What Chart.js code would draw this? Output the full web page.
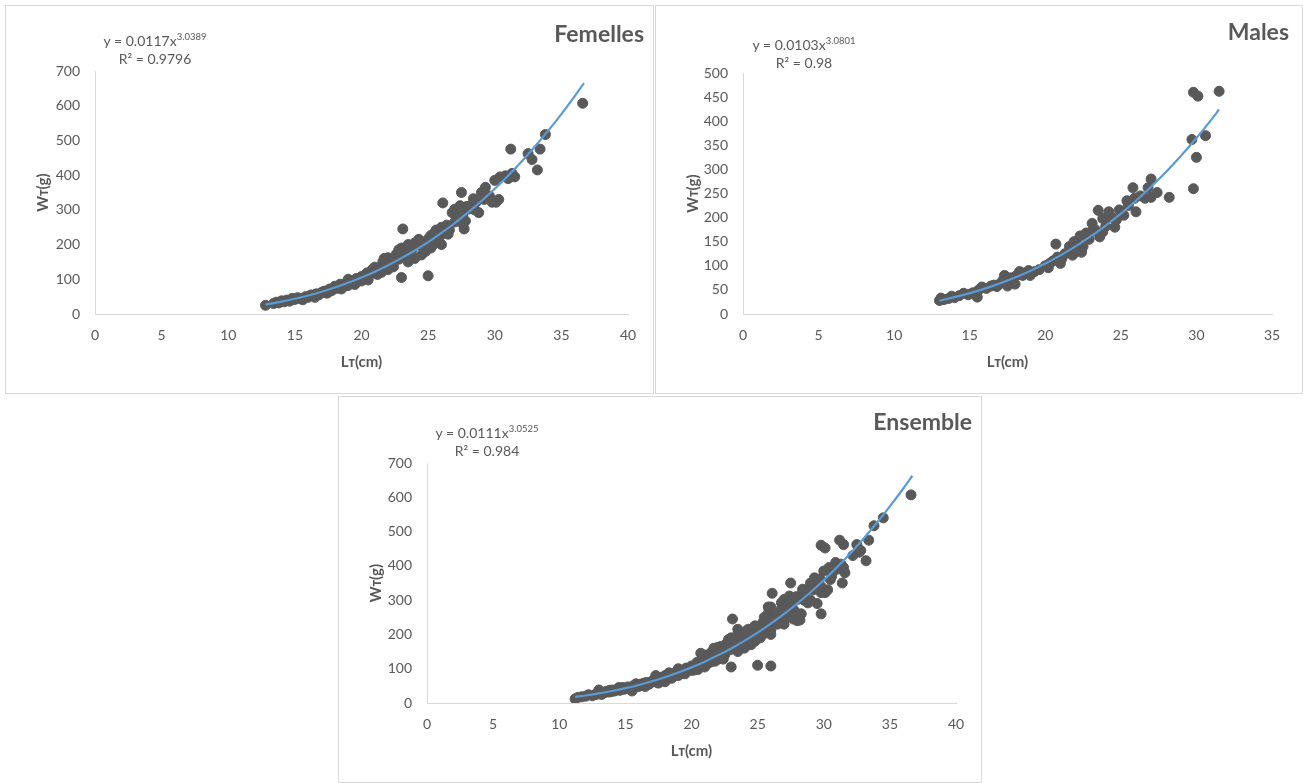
<!DOCTYPE html>
<html lang="fr">
<head>
<meta charset="UTF-8" />
<title>Relation taille-poids</title>
<script src="https://cdn.jsdelivr.net/npm/chart.js"></script>
<style>
  body { margin: 0; background: #fff; font-family: Lato, "Liberation Sans", sans-serif; }
  .box { position: absolute; box-sizing: border-box; border: 1px solid #d9d9d9; background: #fff; }
  .box canvas { position: absolute; left: 0; top: 0; }
  .title { position: absolute; font-weight: bold; font-size: 23px; color: #595959; line-height: 26px; }
  .eq { position: absolute; width: 170px; margin-left: -85px; text-align: center; font-size: 14px; color: #595959; line-height: 18px; }
  .eq sup { font-size: 9.5px; vertical-align: 6px; line-height: 0; }
</style>
</head>
<body>
<div class="box" style="left:5px;top:5px;width:649px;height:389px">
  <canvas id="femelles" width="647" height="387"></canvas>
  <div class="title" style="right:9px;top:14px">Femelles</div>
  <div class="eq" style="left:149px;top:26px">y = 0.0117x<sup>3.0389</sup><br>R² = 0.9796</div>
</div>
<div class="box" style="left:655px;top:5px;width:648px;height:389px">
  <canvas id="males" width="646" height="387"></canvas>
  <div class="title" style="right:13px;top:12px">Males</div>
  <div class="eq" style="left:148px;top:30px">y = 0.0103x<sup>3.0801</sup><br>R² = 0.98</div>
</div>
<div class="box" style="left:338px;top:396px;width:644px;height:387px">
  <canvas id="ensemble" width="642" height="385"></canvas>
  <div class="title" style="right:9px;top:11px">Ensemble</div>
  <div class="eq" style="left:148px;top:27px">y = 0.0111x<sup>3.0525</sup><br>R² = 0.984</div>
</div>
<script>
// longueur totale (cm), poids total (g)
const femellesPoints = [
  [12.8,25],[13.4,30],[13.6,34],[13.8,32],[14.0,38],[14.2,35],[14.4,40],[14.6,37],[14.8,45],[15.0,42],
  [15.2,47],[15.4,44],[15.6,41],[15.8,50],[16.0,48],[16.2,55],[16.4,52],[16.6,58],[16.8,55],[17.0,62],
  [17.2,66],[17.4,60],[17.6,72],[17.8,68],[18.0,80],[18.2,74],[18.4,86],[18.6,78],[18.8,88],[19.0,82],
  [19.2,96],[19.4,92],[19.6,102],[19.8,97],[20.0,108],[20.2,101],[20.4,118],[20.6,112],[20.8,128],[21.0,124],
  [21.2,114],[21.4,132],[21.6,150],[21.8,142],[22.0,162],[22.2,150],[22.4,136],[22.6,172],[22.8,158],[23.0,190],
  [23.0,105],[23.1,245],[23.2,176],[23.4,168],[23.6,196],[23.8,186],[24.0,160],[24.2,200],[24.4,207],[24.6,192],
  [24.8,180],[25.0,110],[25.0,216],[25.2,226],[25.4,200],[25.6,242],[25.8,212],[26.0,250],[26.1,320],[26.2,232],
  [26.4,256],[26.6,242],[26.8,292],[27.0,302],[27.2,276],[27.4,312],[27.5,350],[27.6,282],[27.7,245],[27.8,268],
  [28.0,302],[28.2,312],[28.4,332],[28.6,322],[28.8,292],[29.0,350],[29.3,365],[29.6,340],[29.8,322],[30.0,385],
  [30.1,322],[30.4,395],[30.8,398],[31.0,390],[31.2,475],[31.3,405],[31.5,395],[32.5,462],[32.8,445],[33.2,415],
  [33.4,475],[33.8,517],[36.6,607],
  [16.5,48],[17.5,62],[18.5,72],[19.0,100],[19.5,85],[20.0,95],[20.5,98],[21.0,135],[21.5,120],[21.7,160],
  [22.0,128],[22.5,160],[22.8,185],[23.5,150],[23.5,200],[24.0,205],[24.3,215],[24.5,170],[25.2,190],[25.5,235],
  [26.0,200],[26.3,245],[26.5,230],[27.0,265],[27.3,295],[27.6,260],[27.9,310],[28.5,300],[29.2,330],[30.3,330]
];
const malesPoints = [
  [13.0,28],[13.1,33],[13.3,30],[13.6,32],[13.8,37],[14.0,34],[14.3,38],[14.6,43],[14.9,40],[15.2,44],
  [15.5,35],[15.6,50],[15.8,56],[16.1,53],[16.4,58],[16.8,57],[17.0,63],[17.2,70],[17.3,80],[17.5,58],
  [17.8,68],[18.0,62],[18.1,80],[18.3,88],[18.6,85],[18.9,90],[19.3,88],[19.6,92],[20.0,100],[20.2,96],
  [20.5,110],[20.7,145],[20.8,118],[21.0,105],[21.3,125],[21.6,140],[21.8,122],[22.0,150],[22.1,130],[22.3,162],
  [22.5,140],[22.7,168],[22.9,155],[23.1,188],[23.3,175],[23.5,215],[23.6,160],[23.8,198],[24.0,182],[24.2,212],
  [24.4,200],[24.6,180],[24.9,216],[25.2,205],[25.5,225],[25.8,262],[25.9,240],[26.0,212],[26.3,245],[26.6,240],
  [26.8,262],[27.0,280],[27.0,242],[27.4,252],[28.2,242],[29.7,362],[29.8,260],[29.8,460],[30.0,325],[30.1,452],
  [30.6,370],[31.5,462],
  [16.6,60],[17.7,75],[18.5,80],[19.0,80],[20.3,105],[21.1,115],[21.9,150],[22.4,128],[23.0,170],[23.8,170],
  [24.1,200],[24.7,195],[25.0,210],[25.4,235]
];
// individus non sexés, visibles seulement dans "Ensemble"
const autresPoints = [
  [11.2,12],[11.4,16],[11.7,18],[12.0,20],[12.2,24],[12.5,21],[12.8,27],[13.0,38],[13.2,25],[13.5,33],
  [14.5,45],[21.5,148],[22.5,155],[24.5,210],[26.0,108],[26.0,280],[28.0,240],[29.5,290],[31.4,350],[34.5,540],
  [25.5,250],[25.8,280],[26.5,260],[27.0,230],[28.3,260],[29.0,300],[29.8,340],[30.5,360],[30.9,410],[31.6,380],
  [32.2,430],[32.7,440],[21.0,140],[22.2,165],[23.3,190],[24.8,225],[26.8,275],[28.6,330]
];

// courbes de tendance (puissance)
const femellesTrend = [
  [12.8,27.1],[14,35.6],[15,43.9],[16,53.4],[17,64.2],[18,76.4],[19,90.0],[20,105.2],[21,122.0],[22,140.5],
  [23,160.9],[24,183.1],[25,207.2],[26,233.5],[27,261.9],[28,292.5],[29,325.4],[30,360.6],[31,398.5],[32,438.8],
  [33,481.9],[34,527.6],[35,576.0],[36,627.7],[36.7,665]
];
const malesTrend = [
  [13,27.8],[14,34.9],[15,43.2],[16,52.7],[17,63.5],[18,75.7],[19,89.4],[20,104.7],[21,121.7],[22,140.4],
  [23,161.0],[24,183.6],[25,208.2],[26,234.9],[27,263.9],[28,295.1],[29,328.8],[30,365.0],[31,403.8],[31.5,424.2]
];
const ensembleTrend = [
  [11.2,17.7],[12,21.9],[13,27.9],[14,35.0],[15,43.2],[16,52.6],[17,63.3],[18,75.3],[19,88.8],[20,103.9],
  [21,120.6],[22,139.0],[23,159.2],[24,181.3],[25,205.3],[26,231.4],[27,259.7],[28,290.2],[29,323.0],[30,358.2],
  [31,395.9],[32,436.2],[33,479.2],[34,524.9],[35,573.5],[36,624.9],[36.7,662.8]
];

const xTitle = "Lᴛ(cm)";
const yTitle = "Wᴛ(g)";

const grey = "#595959";
const blue = "#5b9bd5";
const tickFont = { family: "Lato, 'Liberation Sans', sans-serif", size: 14 };
const titleFont = { family: "Lato, 'Liberation Sans', sans-serif", size: 15, weight: "bold" };

function toXY(pairs) {
  return pairs.map(p => ({ x: p[0], y: p[1] }));
}

function makeChart(id, points, trend, xMax, yMax, yStep, box) {
  new Chart(document.getElementById(id), {
    type: "scatter",
    data: {
      datasets: [
        {
          type: "line",
          data: toXY(trend),
          borderColor: blue,
          borderWidth: 2.2,
          pointRadius: 0,
          fill: false,
          cubicInterpolationMode: "monotone",
          order: 0
        },
        {
          data: toXY(points),
          backgroundColor: grey,
          borderColor: grey,
          pointRadius: 5,
          pointHoverRadius: 5,
          order: 1
        }
      ]
    },
    options: {
      responsive: false,
      animation: false,
      layout: { padding: { left: 28, right: box.right, top: box.top, bottom: 22 } },
      plugins: { legend: { display: false }, tooltip: { enabled: false } },
      scales: {
        x: {
          type: "linear",
          min: 0,
          max: xMax,
          afterFit: s => { s.height = 57; },
          grid: { display: false, drawTicks: false },
          border: { display: true, color: "#d9d9d9", width: 1 },
          ticks: { stepSize: 5, color: grey, font: tickFont, padding: 13, maxRotation: 0 },
          title: { display: true, text: xTitle, color: grey, font: titleFont, padding: 0 }
        },
        y: {
          min: 0,
          max: yMax,
          afterFit: s => { s.width = box.left - 28; },
          grid: { display: false, drawTicks: false },
          border: { display: true, color: "#d9d9d9", width: 1 },
          ticks: { stepSize: yStep, color: grey, font: tickFont, padding: 15 },
          title: { display: true, text: yTitle, color: grey, font: titleFont, padding: 0 }
        }
      }
    }
  });
}

makeChart("femelles", femellesPoints, femellesTrend, 40, 700, 100, { left: 89, right: 25, top: 65 });
makeChart("males", malesPoints, malesTrend, 35, 500, 50, { left: 87, right: 30, top: 67 });
makeChart("ensemble", femellesPoints.concat(malesPoints, autresPoints), ensembleTrend, 40, 700, 100, { left: 88, right: 25, top: 66 });
</script>
</body>
</html>
